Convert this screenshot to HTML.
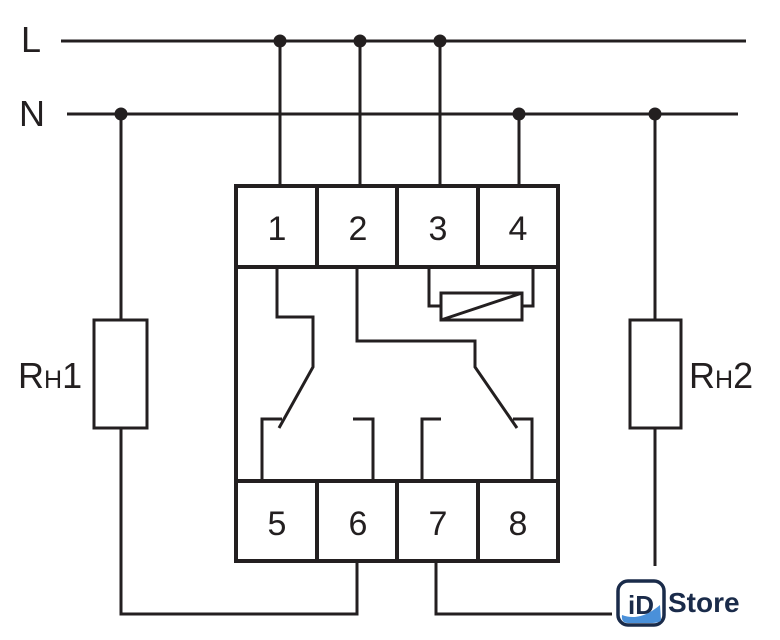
<!DOCTYPE html>
<html><head><style>body{margin:0;background:#fff}svg{display:block}</style></head><body>
<svg width="780" height="640" viewBox="0 0 780 640" xmlns="http://www.w3.org/2000/svg">
<g stroke="#231f20" stroke-width="3" fill="none" stroke-linecap="butt">
<line x1="61" y1="41" x2="746" y2="41"/>
<line x1="67" y1="114" x2="738" y2="114"/>
<line x1="280" y1="41" x2="280" y2="186"/>
<line x1="360" y1="41" x2="360" y2="186"/>
<line x1="440" y1="41" x2="440" y2="186"/>
<line x1="519" y1="114" x2="519" y2="186"/>
<line x1="121" y1="114" x2="121" y2="320"/>
<rect x="94" y="320" width="53" height="108"/>
<polyline points="121,428 121,614 357,614 357,561"/>
<line x1="655" y1="114" x2="655" y2="320"/>
<rect x="630" y="320" width="51" height="108"/>
<line x1="655" y1="428" x2="655" y2="566"/>
<polyline points="436,561 436,614 612,614"/>
<g stroke-width="4">
<rect x="236" y="186" width="322" height="375"/>
<line x1="236" y1="267" x2="558" y2="267"/>
<line x1="236" y1="481" x2="558" y2="481"/>
<line x1="317" y1="186" x2="317" y2="267"/><line x1="397" y1="186" x2="397" y2="267"/><line x1="478" y1="186" x2="478" y2="267"/>
<line x1="317" y1="481" x2="317" y2="561"/><line x1="397" y1="481" x2="397" y2="561"/><line x1="478" y1="481" x2="478" y2="561"/>
</g>
<polyline points="277,267 277,317 313,317 313,367 279,428"/>
<polyline points="357,267 357,341 475,341 475,367 517,428"/>
<polyline points="282,419 262,419 262,481"/>
<polyline points="353,419 373,419 373,481"/>
<polyline points="441,419 422,419 422,481"/>
<polyline points="513,419 532,419 532,481"/>
<rect x="441" y="293" width="81" height="27"/>
<line x1="441" y1="320" x2="522" y2="293"/>
<polyline points="429,267 429,306 441,306"/>
<polyline points="533,267 533,306 522,306"/>
</g>
<g fill="#231f20">
<circle cx="280" cy="41" r="6.5"/><circle cx="360" cy="41" r="6.5"/><circle cx="440" cy="41" r="6.5"/>
<circle cx="121" cy="114" r="6.5"/><circle cx="519" cy="114" r="6.5"/><circle cx="655" cy="114" r="6.5"/>
</g>
<g font-family="Liberation Sans, sans-serif" fill="#231f20" font-size="36" font-weight="normal">
<text x="21" y="52">L</text>
<text x="19" y="126">N</text>
<text x="18" y="388">R<tspan font-size="25">H</tspan>1</text>
<text x="689" y="388">R<tspan font-size="25">H</tspan>2</text>
<g font-size="34" text-anchor="middle">
<text x="277" y="240">1</text><text x="358" y="240">2</text><text x="438" y="240">3</text><text x="518" y="240">4</text>
<text x="277" y="535">5</text><text x="358" y="535">6</text><text x="438" y="535">7</text><text x="518" y="535">8</text>
</g>
</g>
<rect x="618" y="581" width="46" height="44" rx="10" fill="#fff" stroke="#1a2b4a" stroke-width="3.5"/>
<path d="M622 615 Q640 622 660 605 L661 620 Q660 623 650 623 L628 623 Q621 623 622 615Z" fill="#4a90d9"/>
<text x="641" y="614" text-anchor="middle" font-family="Liberation Sans, sans-serif" font-weight="bold" font-size="26" fill="#1a2b4a">iD</text>
<text x="668" y="612" font-family="Liberation Sans, sans-serif" font-weight="bold" font-size="28" fill="#1a2b4a">Store</text>
</svg>
</body></html>
